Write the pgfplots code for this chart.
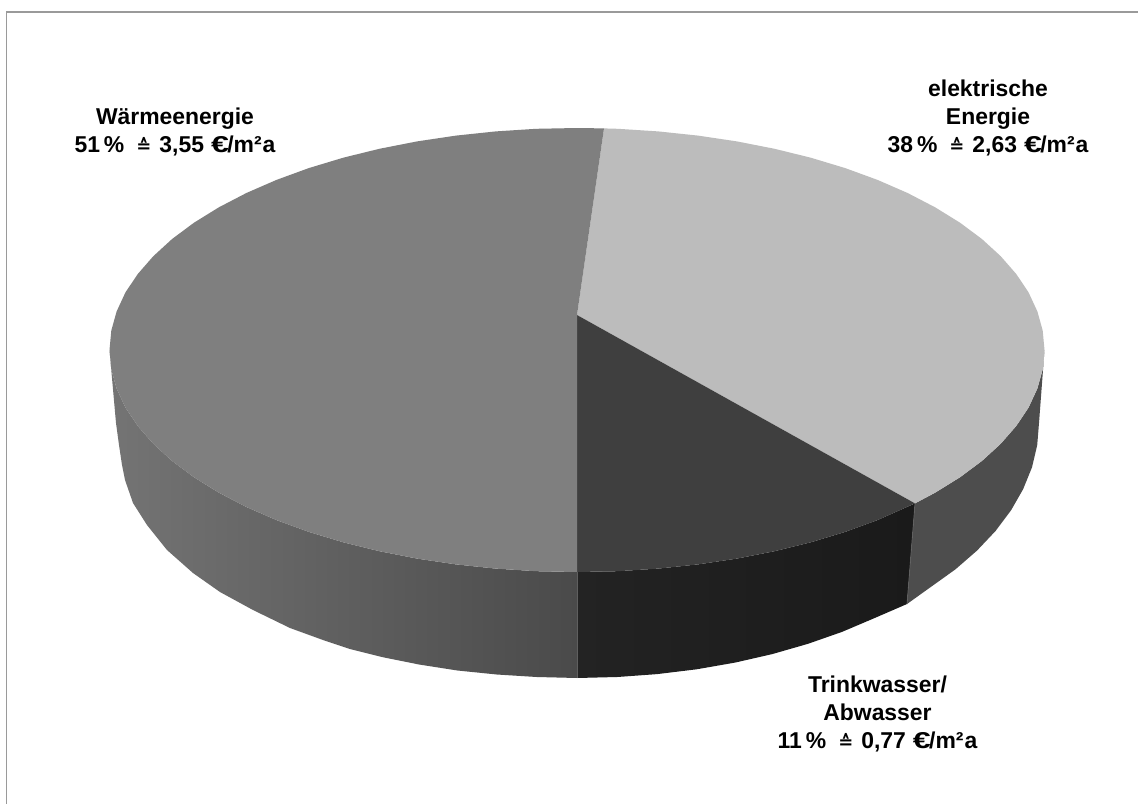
\documentclass[border=0pt]{standalone}
\usepackage{fontspec}
\setmainfont{Liberation Sans}
\newfontfamily\symfont{DejaVu Sans}
\usepackage{graphicx}
\usepackage{pgfplots}
\pgfplotsset{compat=1.18}
\definecolor{topmid}{HTML}{7F7F7F}
\definecolor{toplight}{HTML}{BCBCBC}
\definecolor{topdark}{HTML}{3F3F3F}
\definecolor{sideright}{HTML}{4D4D4D}
\definecolor{sidedarkA}{HTML}{1A1A1A}
\definecolor{sidedarkB}{HTML}{232323}
\definecolor{sideleftA}{HTML}{747474}
\definecolor{sideleftB}{HTML}{4A4A4A}
\definecolor{frameline}{HTML}{9A9A9A}
\definecolor{seam}{HTML}{5F5F5F}
% share and price line of a label
\newcommand{\costline}[2]{#1\kern4bp\%\kern12bp{\symfont\fontsize{18}{28}\selectfont ≙}\kern8bp#2\kern7bp\scalebox{1.4}[1]{€}\kern-1.5bp/m²\kern1bp a}
\tikzset{pielabel/.style={align=center,font=\fontsize{23}{28}\selectfont\bfseries}}
\begin{document}
\begin{tikzpicture}
\begin{axis}[
  x=1bp,y=1bp,y dir=reverse,
  xmin=0,xmax=1138,ymin=0,ymax=804,
  hide axis,scale only axis,
  axis line style={draw=none},
]
% page background and outer frame
\addplot[fill=white,draw=none] coordinates {(0,0)(1138,0)(1138,804)(0,804)} -- cycle;
\addplot[frameline,line width=1.6bp] coordinates {(6.5,804)(6.5,12)(1138,12)};

% side wall, heat slice
\addplot[draw=none,left color=sideleftA,right color=sideleftB] coordinates {
 (577,572)(536.2,571.2)(495.8,568.6)(456,564.4)(417.1,558.6)(379.4,551.2)(343.25,542.3)(308.8,531.9)
 (276.5,520.1)(246.4,507)(218.9,492.7)(194,477.3)(172.1,461)(153.3,443.8)(137.7,425.9)(125.4,407.5)
 (116.6,388.5)(111.3,369.4)(109.5,350)
 (116,423)(119,445)(122,465)(125,480)(133,503)(147,525)(167,550)(193,573)
 (220,592)(253,610)(290,628)(323,640)(350,649)(381.8,657)(419,664.5)(457.4,670.5)
 (496.8,674.5)(536.7,677)(577,678)} -- cycle;

% side wall, water slice
\addplot[draw=none,left color=sidedarkB,right color=sidedarkA] coordinates {
 (577,572)(617.8,571.2)(658.2,568.6)(698,564.4)(736.9,558.6)(774.6,551.2)(810.75,542.3)(845.2,531.9)
 (877.5,520.1)(915,503.4)
 (907,604)(874,618.3)(842,631.9)(808,643.8)(772.2,654.1)(735,662.6)(696.6,669.3)(657.2,674.1)
 (617.3,677)(577,678)} -- cycle;

% side wall, electric slice
\addplot[draw=none,fill=sideright] coordinates {
 (915,503.4)(935.1,492.7)(960,477.3)(981.9,461)(1000.7,443.8)(1016.3,425.9)(1028.6,407.5)(1037.4,388.5)
 (1042.7,369.4)(1044.5,350)
 (1039,423)(1037.2,445.2)(1032,467.3)(1023.2,489)(1011.1,510.2)(995.7,530.8)(977.1,550.5)(955.5,569.3)
 (930.9,586.9)(907,604)} -- cycle;

% faint seams between the side walls
\addplot[seam,line width=0.7bp] coordinates {(577,572)(577,678)};
\addplot[seam,line width=0.7bp] coordinates {(915,503.4)(907,604)};

% top face: electric energy
\addplot[draw=none,fill=toplight] coordinates {
 (577,315)(604,128.4)(617.8,128.8)(658.2,131.4)(698,135.6)(736.9,141.4)(774.6,148.8)(810.75,157.7)
 (845.2,168.1)(877.5,179.9)(907.6,193)(935.1,207.3)(960,222.7)(981.9,239)(1000.7,256.2)(1016.3,274.1)
 (1028.6,292.5)(1037.4,311.5)(1042.7,330.6)(1044.5,350)(1042.7,369.4)(1037.4,388.5)(1028.6,407.5)
 (1016.3,425.9)(1000.7,443.8)(981.9,461)(960,477.3)(935.1,492.7)(915,503.4)} -- cycle;

% top face: drinking and waste water
\addplot[draw=none,fill=topdark] coordinates {
 (577,315)(915,503.4)(877.5,520.1)(845.2,531.9)(810.75,542.3)(774.6,551.2)(736.9,558.6)(698,564.4)
 (658.2,568.6)(617.8,571.2)(577,572)} -- cycle;

% top face: heat
\addplot[draw=none,fill=topmid] coordinates {
 (577,315)(577,572)(536.2,571.2)(495.8,568.6)(456,564.4)(417.1,558.6)(379.4,551.2)(343.25,542.3)
 (308.8,531.9)(276.5,520.1)(246.4,507)(218.9,492.7)(194,477.3)(172.1,461)(153.3,443.8)(137.7,425.9)
 (125.4,407.5)(116.6,388.5)(111.3,369.4)(109.5,350)(111.3,330.6)(116.6,311.5)(125.4,292.5)(137.7,274.1)
 (153.3,256.2)(172.1,239)(194,222.7)(218.9,207.3)(246.4,193)(276.5,179.9)(308.8,168.1)(343.25,157.7)
 (379.4,148.8)(417.1,141.4)(456,135.6)(495.8,131.4)(536.2,128.8)(577,128)(604,128.4)} -- cycle;

\node[pielabel] at (axis cs:175,132) {Wärmeenergie\\\costline{51}{3,55}};
\node[pielabel] at (axis cs:988,118) {elektrische\\Energie\\\costline{38}{2,63}};
\node[pielabel] at (axis cs:877.5,714) {Trinkwasser/\\Abwasser\\\costline{11}{0,77}};
\end{axis}
\end{tikzpicture}
\end{document}
